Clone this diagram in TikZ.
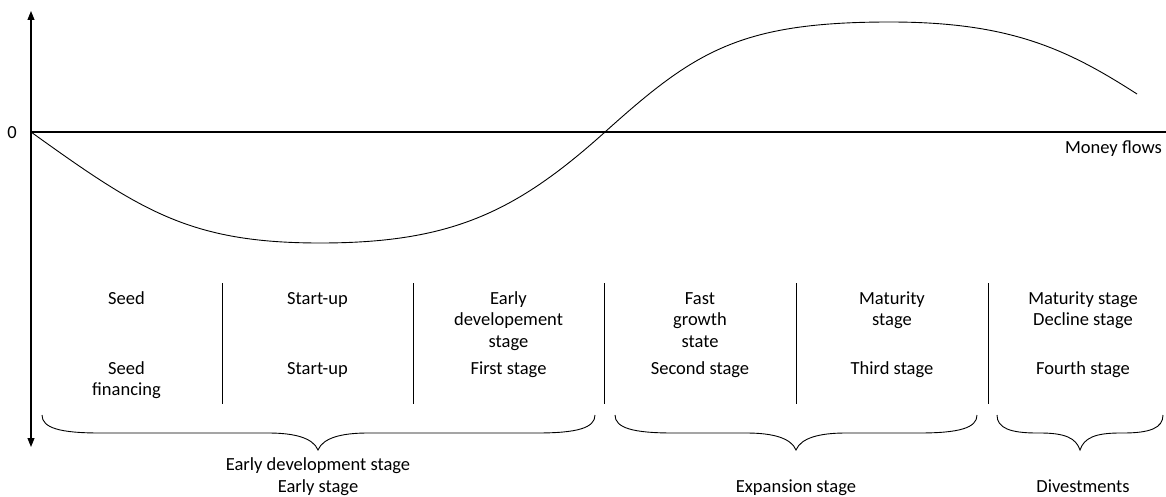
\documentclass[tikz,border=0pt]{standalone}
\usepackage{fontspec}
\setmainfont{Carlito}
\usetikzlibrary{arrows.meta}
\begin{document}
\begin{tikzpicture}[x=1pt,y=-1pt,
  lbl/.style={font=\fontsize{18.5}{21.5}\selectfont, align=center, inner sep=0pt, anchor=base},
  thin line/.style={line width=0.9pt},
  axisline/.style={line width=1.1pt},
  tipped/.style={-{Triangle[length=9pt,width=7pt]}}]
\useasboundingbox (0,0) rectangle (1166,497);
% axes
\coordinate (O) at (31,132);
\coordinate (top) at (31,11);
\coordinate (bot) at (31,447);
\coordinate (xend) at (1166,132);
\draw[axisline,tipped] (O) -- (top);
\draw[axisline,tipped] (O) -- (bot);
\draw[axisline] (O) -- (xend);
\node[lbl, anchor=base] (zero) at (12,139) {0};
\node[lbl, anchor=base east] (money) at (1162,154) {Money flows};
% curve
\draw[thin line] (O) .. controls (141,211) and (190,243) .. (320,243)
  .. controls (450,243) and (515,213) .. (605,132)
  .. controls (695,51) and (740,22) .. (890,22)
  .. controls (1010,22) and (1067,49) .. (1137,94);
% dividers
\foreach \xx in {222,413,604,796,988}
  \draw[thin line] (\xx,283) -- (\xx,404);
% stage labels, row 1 (anchor base = baseline of last line)
\node[lbl] (s1) at (126.5,304) {Seed};
\node[lbl] (s2) at (317.5,304) {Start-up};
\node[lbl] (s3) at (508.5,347) {Early\\developement\\stage};
\node[lbl] (s4) at (700,347) {Fast\\growth\\state};
\node[lbl] (s5) at (892,325.5) {Maturity\\stage};
\node[lbl] (s6) at (1083,325.5) {Maturity stage\\Decline stage};
% row 2
\node[lbl] (f1) at (126.5,395.5) {Seed\\financing};
\node[lbl] (f2) at (317.5,374) {Start-up};
\node[lbl] (f3) at (508.5,374) {First stage};
\node[lbl] (f4) at (700,374) {Second stage};
\node[lbl] (f5) at (892,374) {Third stage};
\node[lbl] (f6) at (1083,374) {Fourth stage};
% braces
\draw[thin line] (42,415) .. controls (42,428) and (60,433) .. (100,433) -- (268,433)
  .. controls (295,433) and (313,438) .. (318,450)
  .. controls (323,438) and (341,433) .. (368,433) -- (537,433)
  .. controls (577,433) and (595,428) .. (595,415);
\draw[thin line] (615,415) .. controls (615,428) and (633,433) .. (673,433) -- (746,433)
  .. controls (773,433) and (791,438) .. (796,450)
  .. controls (801,438) and (819,433) .. (846,433) -- (919,433)
  .. controls (959,433) and (977,428) .. (977,415);
\draw[thin line] (997,415) .. controls (997,428) and (1010,433) .. (1037,433) -- (1040,433)
  .. controls (1065,433) and (1076,438) .. (1080,450)
  .. controls (1084,438) and (1095,433) .. (1120,433) -- (1123,433)
  .. controls (1150,433) and (1163,428) .. (1163,415);
% group labels
\node[lbl] (g1) at (318,492) {Early development stage\\Early stage};
\node[lbl] (g2) at (796,492) {Expansion stage};
\node[lbl] (g3) at (1083,492) {Divestments};
\end{tikzpicture}
\end{document}
